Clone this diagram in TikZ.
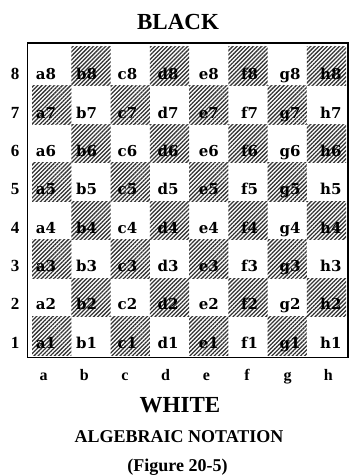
\documentclass[tikz,border=0pt]{standalone}
\usepackage{fontspec}
\setmainfont{Liberation Serif}
\newfontfamily\squarefont{DejaVu Serif}
\usetikzlibrary{patterns.meta}

\begin{document}
\begin{tikzpicture}[
    x=1pt,
    y=-1pt,
    border/.style={black, line width=1.8pt},
    darksquare/.style={pattern={Lines[angle=45,distance=2.9pt,line width=1.3pt]},
                       pattern color=black!80},
    squarelabel/.style={font=\squarefont\fontsize{15}{15}\selectfont\bfseries,
                        inner sep=0pt, anchor=base},
    ranklabel/.style={font=\fontsize{17}{17}\selectfont\bfseries,
                      inner sep=0pt, anchor=base},
    filelabel/.style={font=\fontsize{16}{16}\selectfont\bfseries,
                      inner sep=0pt, anchor=base},
    side/.style={font=\fontsize{23}{23}\selectfont\bfseries,
                 inner sep=0pt, anchor=base},
    caption/.style={font=\fontsize{18}{18}\selectfont\bfseries,
                    inner sep=0pt, anchor=base}
]

\useasboundingbox (0,0) rectangle (353,476);

% =========================================================
% PARAMETERS
% =========================================================

% board squares
\def\bx{32}
\def\by{47}
\def\sqw{39.25}
\def\sqh{38.5}

% label grid (baseline of the text)
\def\lx{46}
\def\ly{80}
\def\dlx{40.7}
\def\dly{38.3}

% =========================================================
% SQUARES
% =========================================================

\foreach \f [count=\i from 0] in {a,...,h} {
  \foreach \r in {1,...,8} {
    \pgfmathtruncatemacro\dark{mod(\i+\r,2)}
    \ifnum\dark=1
      \fill[darksquare] ({\bx+\i*\sqw},{\by+(8-\r)*\sqh}) rectangle ++(\sqw,\sqh);
    \fi
  }
}

% Frame
\draw[border] (27.5,43) rectangle (348,357.5);

% =========================================================
% LABELS
% =========================================================

% Square names
\foreach \f [count=\i from 0] in {a,...,h} {
  \foreach \r in {1,...,8} {
    \node[squarelabel] (sq-\f\r) at ({\lx+\i*\dlx},{\ly+(8-\r)*\dly}) {\f\r};
  }
}

% Ranks
\foreach \r in {1,...,8} {
  \node[ranklabel] (rank-\r) at (15,{\ly+(8-\r)*\dly}) {\r};
}

% Files
\foreach \f [count=\i from 0] in {a,...,h} {
  \node[filelabel] (file-\f) at ({43.5+\i*\dlx},380) {\f};
}

% =========================================================
% TITLES
% =========================================================

\node[side] (black) at (178,30) {BLACK};
\node[side] (white) at (180,412) {WHITE};
\node[caption] (notation) at (179,442) {ALGEBRAIC NOTATION};
\node[caption] (figure) at (177.5,471) {(Figure 20-5)};

\end{tikzpicture}
\end{document}
